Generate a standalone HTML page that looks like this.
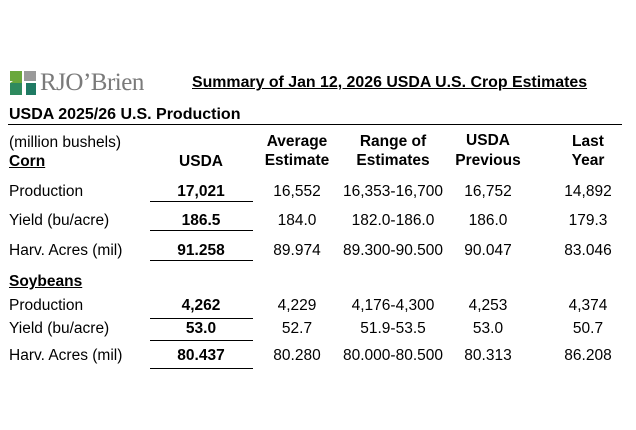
<!DOCTYPE html>
<html><head><meta charset="utf-8"><style>
body{margin:0;width:636px;height:430px;background:#fff;position:relative;overflow:hidden;font-family:"Liberation Sans",Arial,sans-serif;color:#000}
.t{position:absolute;white-space:nowrap;font-size:15.5px;line-height:19px}
.c{transform:translateX(-50%)}
.b{font-weight:bold}
.u{text-decoration:underline}
.ln{position:absolute;height:1px;background:#000}
</style></head><body>
<div style="position:absolute;left:10px;top:71px;width:135px;height:24px">
 <svg width="28" height="24" style="position:absolute;left:0;top:0">
  <rect x="0" y="0" width="12" height="10" fill="#6aa83c"/><rect x="14" y="0" width="12" height="10" fill="#9a9a9a"/>
  <polygon points="0,12 12,12 12,24 0,24" fill="#2e8a5e"/><polygon points="0,12 12,4 12,12" fill="#6aa83c"/>
  <rect x="16" y="12" width="10" height="12" fill="#1f7a63"/>
 </svg>
 <span style="position:absolute;left:30px;top:-2px;font-family:'Liberation Serif',serif;font-size:25px;color:#7a7a7a;letter-spacing:-0.5px">RJO’Brien</span>
</div>
<div class="t b u" style="left:192px;top:73px;font-size:15.9px">Summary of Jan 12, 2026 USDA U.S. Crop Estimates</div>
<div class="t b" style="left:9px;top:105px;font-size:16px">USDA 2025/26 U.S. Production</div>
<div class="ln" style="left:8px;top:124px;width:614px"></div>
<div class="t" style="left:9px;top:133px">(million bushels)</div>
<div class="t b u" style="left:9px;top:152px">Corn</div>
<div class="t b c" style="left:201px;top:152px">USDA</div>
<div class="t b c" style="left:297px;top:132px;text-align:center">Average<br>Estimate</div>
<div class="t b c" style="left:393px;top:132px;text-align:center">Range of<br>Estimates</div>
<div class="t b c" style="left:488px;text-align:center;line-height:20px;top:131px">USDA<br>Previous</div>
<div class="t b c" style="left:588px;top:132px;text-align:center">Last<br>Year</div>
<div class="t b u" style="left:9px;top:272px">Soybeans</div>
<div id="rows"></div>
<script>
const labels=["Production","Yield (bu/acre)","Harv. Acres (mil)","Production","Yield (bu/acre)","Harv. Acres (mil)"];
const usda=["17,021","186.5","91.258","4,262","53.0","80.437"];
const avg=["16,552","184.0","89.974","4,229","52.7","80.280"];
const range=["16,353-16,700","182.0-186.0","89.300-90.500","4,176-4,300","51.9-53.5","80.000-80.500"];
const prev=["16,752","186.0","90.047","4,253","53.0","80.313"];
const last=["14,892","179.3","83.046","4,374","50.7","86.208"];
const rowY=[191,220,250,305,328,355];
const lineY=[201,230,260,318,340,368];
const r=document.getElementById('rows');
function add(txt,x,y,cls,name){const d=document.createElement('div');d.className='t '+cls;d.textContent=txt;d.style.left=x+'px';d.style.top=(y-9)+'px';


r.appendChild(d);}
for(let i=0;i<labels.length;i++){
 add(labels[i],9,rowY[i],'','row-label');
 add(usda[i],201,rowY[i],'b c','usda-value');
 add(avg[i],297,rowY[i],'c','average-value');
 add(range[i],393,rowY[i],'c','range-value');
 add(prev[i],488,rowY[i],'c','previous-value');
 add(last[i],588,rowY[i],'c','last-year-value');
 const l=document.createElement('div');l.className='ln';l.style.left='150px';l.style.width='103px';l.style.top=lineY[i]+'px';
 
 
 r.appendChild(l);
}
</script>
</body></html>
